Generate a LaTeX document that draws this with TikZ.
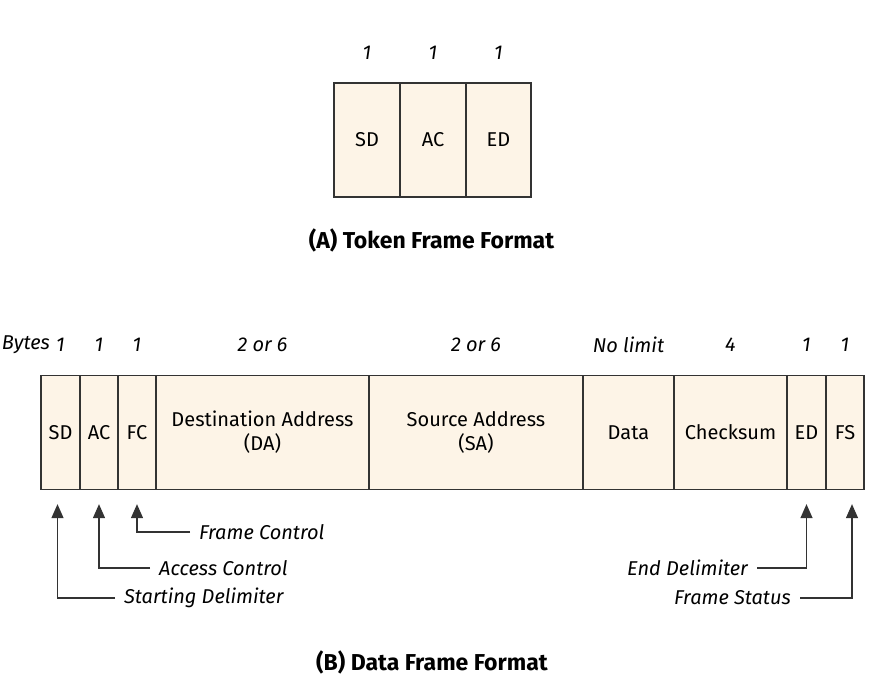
\documentclass[tikz,border=0pt]{standalone}
\usepackage{fontspec}
\setmainfont{Fira Sans}
\usetikzlibrary{arrows.meta}
\definecolor{cellfill}{HTML}{FDF4E7}
\definecolor{edge}{HTML}{333333}

\begin{document}
\begin{tikzpicture}[x=1pt, y=-1pt, font=\fontsize{20}{24}\selectfont,
		cell/.style={draw=edge, line width=1.3pt, fill=cellfill, minimum height=114pt, inner sep=0pt, align=center},
		bytes/.style={font=\fontsize{20}{24}\selectfont\itshape},
		note/.style={font=\fontsize{20}{24}\selectfont\itshape, inner xsep=9pt, inner ysep=0pt},
		ptr/.style={draw=edge, line width=1.3pt, -{Triangle[width=12pt,length=14pt]}},
		caption/.style={font=\fontsize{23}{27}\selectfont\bfseries}]
		\useasboundingbox (0,0) rectangle (892,700);

		% Token frame
		\foreach \n/\x in {tsd/367, tac/433, ted/498.5} {
			\node [bytes] (\n-b) at (\x,53) {1};
		}
		\node [cell, minimum width=66pt] (tsd) at (367,140) {SD};
		\node [cell, minimum width=66pt] (tac) at (433,140) {AC};
		\node [cell, minimum width=65pt] (ted) at (498.5,140) {ED};
		\node [caption] (tcap) at (431.5,240) {(A) Token Frame Format};

		% Data frame
		\node [bytes, anchor=east, inner xsep=0pt] (bytes) at (50,345) {Bytes};
		\foreach \n/\l/\r/\t/\b in {sd/41/80/SD/1, ac/80/118/AC/1, fc/118/156/FC/1,
				da/156/369/{Destination Address\\(DA)}/2 or 6, sa/369/583/{Source Address\\(SA)}/2 or 6,
				data/583/674/Data/No limit, cs/674/787/Checksum/4, ed/787/826/ED/1, fs/826/864/FS/1} {
			\node [cell, minimum width={(\r-\l)*1pt}] (\n) at ({(\l+\r)/2},432.5) {\t};
			\node [bytes] (\n-b) at ({(\l+\r)/2},345) {\b};
		}

		% Pointers
		\node [note, anchor=west] (fcnote) at (190,532) {Frame Control};
		\node [note, anchor=west] (acnote) at (150,568) {Access Control};
		\node [note, anchor=west] (sdnote) at (115,598) {Starting Delimiter};
		\node [note, anchor=east] (ednote) at (757,568) {End Delimiter};
		\node [note, anchor=east] (fsnote) at (800,598) {Frame Status};

		\draw [ptr] (fcnote.west) -| ([yshift=-14pt]fc.south);
		\draw [ptr] (acnote.west) -| ([yshift=-14pt]ac.south);
		\draw [ptr] (sdnote.west) -| ([xshift=-3pt,yshift=-14pt]sd.south);
		\draw [ptr] (ednote.east) -| ([yshift=-14pt]ed.south);
		\draw [ptr] (fsnote.east) -| ([xshift=7pt,yshift=-14pt]fs.south);

		\node [caption] (dcap) at (432,662) {(B) Data Frame Format};
	\end{tikzpicture}
\end{document}
